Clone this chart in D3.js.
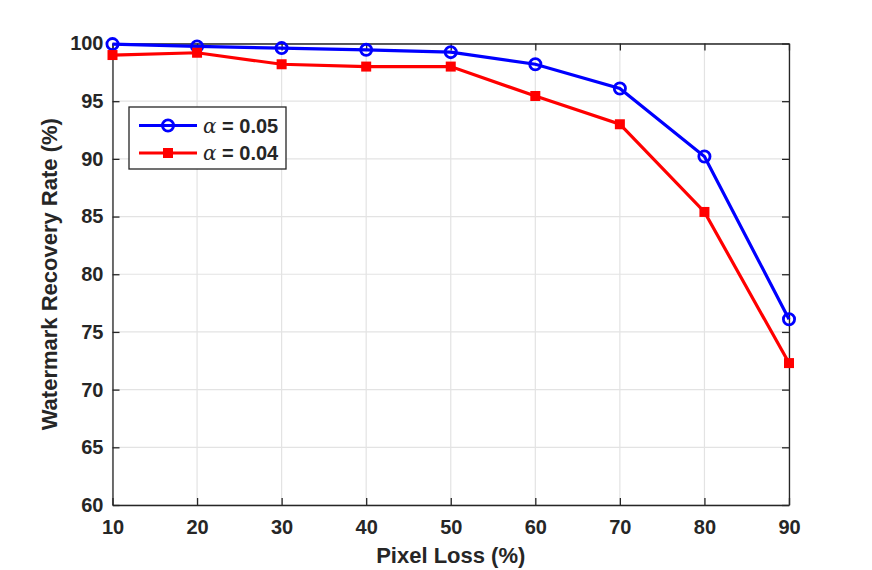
<!DOCTYPE html>
<html>
<head>
<meta charset="utf-8">
<script src="https://cdn.jsdelivr.net/npm/d3@7"></script>
<style>
  body { margin: 0; background: #fff; }
  text { font-family: "Liberation Sans", Arial, sans-serif; font-weight: bold; fill: #262626; }
</style>
</head>
<body>
<div id="chart"></div>
<script>
// data
const pixelLoss = [10, 20, 30, 40, 50, 60, 70, 80, 90];
const rate005 = [99.95, 99.75, 99.6, 99.45, 99.25, 98.2, 96.1, 90.2, 76.1];
const rate004 = [99.0, 99.2, 98.2, 98.0, 98.0, 95.45, 93.0, 85.4, 72.3];
const xTicks = [10, 20, 30, 40, 50, 60, 70, 80, 90];
const yTicks = [60, 65, 70, 75, 80, 85, 90, 95, 100];
const seriesNames = ['0.05', '0.04'];

const width = 872, height = 570;
const margin = { top: 43.5, right: 83, bottom: 65, left: 112.5 };
const iw = width - margin.left - margin.right;
const ih = height - margin.top - margin.bottom;

const svg = d3.select('#chart').append('svg')
    .attr('width', width)
    .attr('height', height);

const g = svg.append('g')
    .attr('transform', `translate(${margin.left},${margin.top})`);

const x = d3.scaleLinear().domain([10, 90]).range([0, iw]);
const y = d3.scaleLinear().domain([60, 100]).range([ih, 0]);

// grid
g.append('g').selectAll('line')
    .data(xTicks)
    .join('line')
    .attr('x1', d => x(d)).attr('x2', d => x(d))
    .attr('y1', 0).attr('y2', ih)
    .attr('stroke', '#e3e3e3').attr('stroke-width', 1.2);
g.append('g').selectAll('line')
    .data(yTicks)
    .join('line')
    .attr('x1', 0).attr('x2', iw)
    .attr('y1', d => y(d)).attr('y2', d => y(d))
    .attr('stroke', '#e3e3e3').attr('stroke-width', 1.2);

// axes (ticks inside, box)
const tickLen = 7;
g.append('g')
    .attr('transform', `translate(0,${ih})`)
    .call(d3.axisBottom(x).tickValues(xTicks).tickSizeInner(-tickLen).tickSizeOuter(0).tickPadding(15));
g.append('g')
    .call(d3.axisLeft(y).tickValues(yTicks).tickSizeInner(-tickLen).tickSizeOuter(0).tickPadding(9));
g.append('g')
    .call(d3.axisTop(x).tickValues(xTicks).tickSizeInner(-tickLen).tickSizeOuter(0).tickFormat(''));
g.append('g')
    .attr('transform', `translate(${iw},0)`)
    .call(d3.axisRight(y).tickValues(yTicks).tickSizeInner(-tickLen).tickSizeOuter(0).tickFormat(''));

g.selectAll('.domain').attr('stroke', '#262626').attr('stroke-width', 1.3);
g.selectAll('.tick line').attr('stroke', '#262626').attr('stroke-width', 1.3);
g.selectAll('.tick text')
    .style('font-size', '20px')
    .style('font-family', '"Liberation Sans", Arial, sans-serif')
    .style('font-weight', 'bold')
    .attr('fill', '#262626');

// lines
const line = d3.line().x((d, i) => x(pixelLoss[i])).y(d => y(d));

g.append('path')
    .datum(rate005)
    .attr('fill', 'none')
    .attr('stroke', '#0000ff')
    .attr('stroke-width', 3.2)
    .attr('d', line);

g.selectAll('.m005')
    .data(rate005)
    .join('circle')
    .attr('class', 'm005')
    .attr('cx', (d, i) => x(pixelLoss[i]))
    .attr('cy', d => y(d))
    .attr('r', 5.6)
    .attr('fill', 'none')
    .attr('stroke', '#0000ff')
    .attr('stroke-width', 2.8);

g.append('path')
    .datum(rate004)
    .attr('fill', 'none')
    .attr('stroke', '#ff0000')
    .attr('stroke-width', 3.2)
    .attr('d', line);

const sq = 10;
g.selectAll('.m004')
    .data(rate004)
    .join('rect')
    .attr('class', 'm004')
    .attr('x', (d, i) => x(pixelLoss[i]) - sq / 2)
    .attr('y', d => y(d) - sq / 2)
    .attr('width', sq)
    .attr('height', sq)
    .attr('fill', '#ff0000');

// axis titles
svg.append('text')
    .attr('x', margin.left + iw / 2)
    .attr('y', 563)
    .attr('text-anchor', 'middle')
    .style('font-size', '22px')
    .text('Pixel Loss (%)');

svg.append('text')
    .attr('transform', `translate(57,${margin.top + ih / 2}) rotate(-90)`)
    .attr('text-anchor', 'middle')
    .style('font-size', '22px')
    .text('Watermark Recovery Rate (%)');

// legend
const legend = svg.append('g').attr('transform', 'translate(129,107)');
legend.append('rect')
    .attr('width', 157).attr('height', 62)
    .attr('fill', '#fff')
    .attr('stroke', '#262626').attr('stroke-width', 1.3);

const legendItems = [
    { name: seriesNames[0], color: '#0000ff', marker: 'circle', y: 18.5 },
    { name: seriesNames[1], color: '#ff0000', marker: 'square', y: 46 }
];
legendItems.forEach(it => {
    const row = legend.append('g').attr('transform', `translate(0,${it.y})`);
    row.append('line')
        .attr('x1', 10).attr('x2', 68)
        .attr('stroke', it.color).attr('stroke-width', 3.2);
    if (it.marker === 'circle') {
        row.append('circle').attr('cx', 39).attr('r', 5.6)
            .attr('fill', 'none').attr('stroke', it.color).attr('stroke-width', 2.8);
    } else {
        row.append('rect').attr('x', 34).attr('y', -5).attr('width', 10).attr('height', 10)
            .attr('fill', it.color);
    }
    const t = row.append('text')
        .attr('x', 74).attr('y', 7)
        .style('font-size', '20px');
    t.append('tspan')
        .style('font-family', '"DejaVu Serif", "Liberation Serif", serif')
        .style('font-style', 'italic')
        .style('font-weight', 'normal')
        .style('font-size', '20px')
        .text('α');
    t.append('tspan').text(' = ' + it.name);
});
</script>
</body>
</html>
